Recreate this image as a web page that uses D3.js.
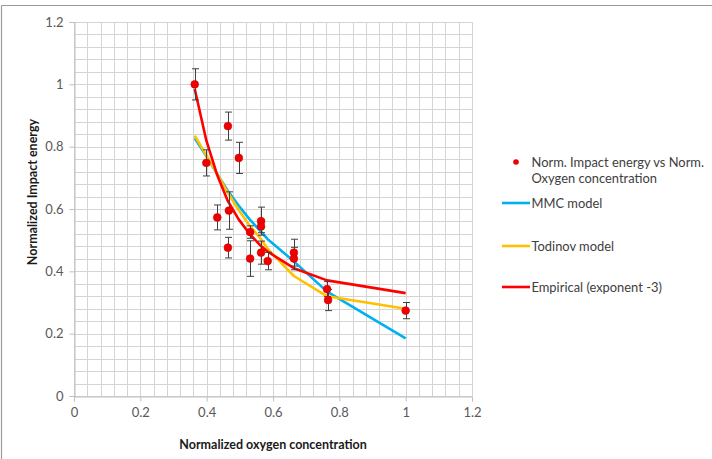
<!DOCTYPE html>
<html>
<head>
<meta charset="utf-8">
<script src="https://cdn.jsdelivr.net/npm/d3@7"></script>
<style>
  html, body { margin: 0; padding: 0; background: #fff; }
  svg { display: block; font-family: Lato, "Open Sans", "Liberation Sans", sans-serif; }
</style>
</head>
<body>
<svg id="chart" width="712" height="459"></svg>
<script>
// Measured impact energy vs oxygen concentration (both normalized), with error bars
const obsX   = [0.364, 0.399, 0.432, 0.464, 0.467, 0.464, 0.497, 0.531, 0.531, 0.564, 0.564, 0.564, 0.584, 0.663, 0.663, 0.763, 0.766, 1.000];
const obsY   = [1.000, 0.748, 0.573, 0.866, 0.595, 0.476, 0.764, 0.526, 0.441, 0.561, 0.544, 0.460, 0.433, 0.460, 0.441, 0.343, 0.308, 0.274];
const obsErr = [0.050, 0.042, 0.040, 0.045, 0.060, 0.033, 0.050, 0.020, 0.057, 0.045, 0.020, 0.037, 0.028, 0.043, 0.036, 0.024, 0.034, 0.026];

// Model curves evaluated at the measured concentrations
const modelX    = [0.364, 0.399, 0.432, 0.464, 0.497, 0.531, 0.564, 0.584, 0.663, 0.763, 1.000];
const mmcY      = [0.827, 0.770, 0.712, 0.658, 0.610, 0.565, 0.527, 0.503, 0.432, 0.335, 0.185];
const todinovY  = [0.835, 0.772, 0.712, 0.652, 0.596, 0.545, 0.503, 0.472, 0.385, 0.320, 0.280];
const empiricalY= [0.985, 0.820, 0.708, 0.625, 0.566, 0.518, 0.481, 0.463, 0.410, 0.371, 0.330];

const xTicks = [0, 0.2, 0.4, 0.6, 0.8, 1, 1.2];
const yTicks = [0, 0.2, 0.4, 0.6, 0.8, 1, 1.2];
const gridStep = 0.04;

const legendItems = [
  { type: "dot",  color: "#ff0000", label: ["Norm. Impact energy vs Norm.", "Oxygen concentration"] },
  { type: "line", color: "#00b0f0", label: ["MMC model"] },
  { type: "line", color: "#ffc000", label: ["Todinov model"] },
  { type: "line", color: "#ff0000", label: ["Empirical (exponent -3)"] }
];

const svg = d3.select("#chart");

// Frame lines of the chart area
svg.append("line").attr("x1", 1.5).attr("x2", 712).attr("y1", 5.5).attr("y2", 5.5)
  .attr("stroke", "#9a9a9a").attr("stroke-width", 1.2);
svg.append("line").attr("x1", 1.5).attr("x2", 1.5).attr("y1", 5.5).attr("y2", 459)
  .attr("stroke", "#9a9a9a").attr("stroke-width", 1.2);

const x = d3.scaleLinear().domain([0, 1.2]).range([74, 472]);
const y = d3.scaleLinear().domain([0, 1.2]).range([396, 22]);

// Fine grid every 0.04
const gridVals = d3.range(0, 1.2 + 1e-9, gridStep);
const grid = svg.append("g").attr("stroke", "#d4d4d4").attr("stroke-width", 1);
gridVals.forEach(v => {
  grid.append("line").attr("x1", Math.round(x(v)) + 0.5).attr("x2", Math.round(x(v)) + 0.5)
    .attr("y1", y(1.2)).attr("y2", y(0));
  grid.append("line").attr("y1", Math.round(y(v)) + 0.5).attr("y2", Math.round(y(v)) + 0.5)
    .attr("x1", x(0)).attr("x2", x(1.2));
});

// Axes
const fmt = d => d3.format("")(+d.toFixed(1));
const xAxis = svg.append("g").attr("transform", `translate(0,${Math.round(y(0)) + 0.5})`)
  .call(d3.axisBottom(x).tickValues(xTicks).tickFormat(fmt).tickSize(5).tickPadding(6));
const yAxis = svg.append("g").attr("transform", `translate(${Math.round(x(0)) + 0.5},0)`)
  .call(d3.axisLeft(y).tickValues(yTicks).tickFormat(fmt).tickSize(5).tickPadding(6));
[xAxis, yAxis].forEach(a => {
  a.select(".domain").attr("stroke", "#bfbfbf");
  a.selectAll(".tick line").attr("stroke", "#bfbfbf");
  a.selectAll(".tick text").attr("fill", "#595959").style("font-size", "13px")
    .style("font-family", "Lato, 'Open Sans', sans-serif");
});

// Axis titles
svg.append("text").attr("x", 273).attr("y", 449).attr("text-anchor", "middle")
  .style("font-size", "12.5px").style("font-weight", "bold").attr("fill", "#1a1a1a")
  .text("Normalized oxygen concentration");
svg.append("text").attr("transform", "translate(37,192) rotate(-90)").attr("text-anchor", "middle")
  .style("font-size", "12.5px").style("font-weight", "bold").attr("fill", "#1a1a1a")
  .text("Normalized Impact energy");

// Model lines
const line = d3.line().x(d => x(d[0])).y(d => y(d[1]));
const series = [
  { ys: mmcY, color: "#00b0f0" },
  { ys: todinovY, color: "#ffc000" },
  { ys: empiricalY, color: "#ff0000" }
];
series.forEach(s => {
  svg.append("path").datum(modelX.map((v, i) => [v, s.ys[i]]))
    .attr("d", line).attr("fill", "none").attr("stroke", s.color)
    .attr("stroke-width", 2.6).attr("stroke-linejoin", "round");
});

// Error bars
const obs = obsX.map((v, i) => ({ x: v, y: obsY[i], e: obsErr[i] }));
const eb = svg.append("g").attr("stroke", "#404040").attr("stroke-width", 1);
obs.forEach(d => {
  const cx = Math.round(x(d.x)) + 0.5;
  eb.append("line").attr("x1", cx).attr("x2", cx).attr("y1", y(d.y + d.e)).attr("y2", y(d.y - d.e));
  [d.y + d.e, d.y - d.e].forEach(v => {
    eb.append("line").attr("x1", cx - 3.5).attr("x2", cx + 3.5).attr("y1", y(v)).attr("y2", y(v));
  });
});

// Observed points
svg.append("g").selectAll("circle").data(obs).join("circle")
  .attr("cx", d => x(d.x)).attr("cy", d => y(d.y)).attr("r", 3.9)
  .attr("fill", "#ee0000").attr("stroke", "#d00000").attr("stroke-width", 0.6);

// Legend
const legY = [162, 203, 246, 287];
const lg = svg.append("g");
legendItems.forEach((it, i) => {
  const cy = legY[i];
  if (it.type === "dot") {
    lg.append("circle").attr("cx", 516).attr("cy", cy).attr("r", 2.8).attr("fill", "#ee0000");
  } else {
    lg.append("line").attr("x1", 502).attr("x2", 530).attr("y1", cy).attr("y2", cy)
      .attr("stroke", it.color).attr("stroke-width", 2.6);
  }
  it.label.forEach((t, j) => {
    lg.append("text").attr("x", 531.5).attr("y", cy + 4.5 + j * 16)
      .style("font-size", "12.9px").attr("fill", "#404040").text(t);
  });
});
</script>
</body>
</html>
